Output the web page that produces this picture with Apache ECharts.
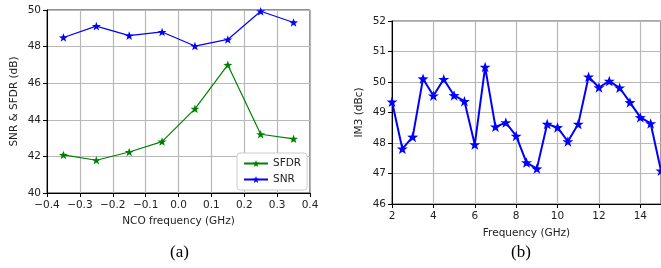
<!DOCTYPE html>
<html>
<head>
<meta charset="utf-8">
<script src="https://cdn.jsdelivr.net/npm/echarts@6/dist/echarts.min.js"></script>
<style>
  html, body { margin: 0; padding: 0; background: #fff; }
  #chart { width: 661px; height: 268px; }
</style>
</head>
<body>
<div id="chart"></div>
<script>
// (a) NCO sweep
var ncoFreq = [-0.35, -0.25, -0.15, -0.05, 0.05, 0.15, 0.25, 0.35];
var sfdr = [42.08, 41.79, 42.24, 42.81, 44.6, 47.0, 43.21, 42.96];
var snr = [48.5, 49.12, 48.6, 48.8, 48.03, 48.39, 49.93, 49.32];

// (b) IM3 vs frequency
var rfFreq = [2, 2.5, 3, 3.5, 4, 4.5, 5, 5.5, 6, 6.5, 7, 7.5, 8, 8.5, 9,
              9.5, 10, 10.5, 11, 11.5, 12, 12.5, 13, 13.5, 14, 14.5, 15];
var im3 = [49.35, 47.81, 48.2, 50.11, 49.55, 50.09, 49.56, 49.37, 47.95, 50.49,
           48.53, 48.67, 48.23, 47.36, 47.16, 48.62, 48.51, 48.05, 48.62, 50.17,
           49.82, 50.03, 49.81, 49.33, 48.84, 48.64, 47.09];

var star = 'path://M0,-10L2.35,-3.24L9.51,-3.09L3.8,1.24L5.88,8.09L0,4L-5.88,8.09L-3.8,1.24L-9.51,-3.09L-2.35,-3.24Z';
var font = 'DejaVu Sans';
var gridLine = { show: true, lineStyle: { color: '#b8b8b8', width: 1.2 } };
var axisLine = { onZero: false, lineStyle: { color: '#000' } };

function pairs(xs, ys) {
    return xs.map(function (x, i) { return [x, ys[i]]; });
}

var chart = echarts.init(document.getElementById('chart'));

var option = {
    animation: false,
    textStyle: { fontFamily: font },
    grid: [
        { left: 47, top: 10, width: 263, height: 183, show: true, borderColor: '#222', borderWidth: 1 },
        { left: 392, top: 21, width: 270, height: 183, show: true, borderColor: '#555', borderWidth: 1.2 }
    ],
    xAxis: [{
        gridIndex: 0, type: 'value', min: -0.4, max: 0.4, interval: 0.1,
        name: 'NCO frequency (GHz)', nameLocation: 'middle', nameGap: 23,
        nameTextStyle: { fontSize: 10.5, color: '#222' },
        axisLine: axisLine,
        axisTick: { length: 4, lineStyle: { color: '#000' } },
        axisLabel: {
            fontSize: 10.5, color: '#222', margin: 7,
            formatter: function (v) { return (v < -1e-9 ? '\u2212' : '') + Math.abs(v).toFixed(1); }
        },
        splitLine: gridLine
    }, {
        gridIndex: 1, type: 'value', min: 2, max: 15, interval: 2,
        name: 'Frequency (GHz)', nameLocation: 'middle', nameGap: 24,
        nameTextStyle: { fontSize: 10.5, color: '#222' },
        axisLine: axisLine,
        axisTick: { length: 4, lineStyle: { color: '#000' } },
        axisLabel: { fontSize: 10.5, color: '#222', margin: 7, showMaxLabel: false },
        splitLine: gridLine
    }],
    yAxis: [{
        gridIndex: 0, type: 'value', min: 40, max: 50, interval: 2,
        name: 'SNR & SFDR (dB)', nameLocation: 'middle', nameGap: 27,
        nameTextStyle: { fontSize: 10.5, color: '#222' },
        axisLine: axisLine,
        axisTick: { length: 4, lineStyle: { color: '#000' } },
        axisLabel: { fontSize: 10.5, color: '#222', margin: 6 },
        splitLine: gridLine
    }, {
        gridIndex: 1, type: 'value', min: 46, max: 52, interval: 1,
        name: 'IM3 (dBc)', nameLocation: 'middle', nameGap: 27,
        nameTextStyle: { fontSize: 10.5, color: '#222' },
        axisLine: axisLine,
        axisTick: { length: 4, lineStyle: { color: '#000' } },
        axisLabel: { fontSize: 10.5, color: '#222', margin: 6 },
        splitLine: gridLine
    }],
    legend: {
        left: 237, top: 153, orient: 'vertical',
        itemWidth: 24, itemHeight: 9, itemGap: 5,
        padding: [5, 6, 5, 6],
        borderColor: '#ccc', borderWidth: 1, borderRadius: 3,
        backgroundColor: '#fff',
        textStyle: { fontSize: 10.5, color: '#222' },
        data: ['SFDR', 'SNR']
    },
    series: [{
        name: 'SFDR', type: 'line', xAxisIndex: 0, yAxisIndex: 0,
        data: pairs(ncoFreq, sfdr),
        symbol: star, symbolSize: 9, symbolKeepAspect: true,
        lineStyle: { color: '#008000', width: 1.2 },
        itemStyle: { color: '#008000' }
    }, {
        name: 'SNR', type: 'line', xAxisIndex: 0, yAxisIndex: 0,
        data: pairs(ncoFreq, snr),
        symbol: star, symbolSize: 9, symbolKeepAspect: true,
        lineStyle: { color: '#0000ff', width: 1.2 },
        itemStyle: { color: '#0000ff' }
    }, {
        name: 'IM3', type: 'line', xAxisIndex: 1, yAxisIndex: 1,
        data: pairs(rfFreq, im3),
        symbol: star, symbolSize: 11, symbolKeepAspect: true,
        clip: true,
        lineStyle: { color: '#0000ff', width: 2 },
        itemStyle: { color: '#0000ff' }
    }],
    graphic: [{
        type: 'text', left: 170, top: 244,
        style: { text: '(a)', font: '17px "Liberation Serif"', fill: '#000' }
    }, {
        type: 'text', left: 511, top: 244,
        style: { text: '(b)', font: '17px "Liberation Serif"', fill: '#000' }
    }]
};

chart.setOption(option);
</script>
</body>
</html>
